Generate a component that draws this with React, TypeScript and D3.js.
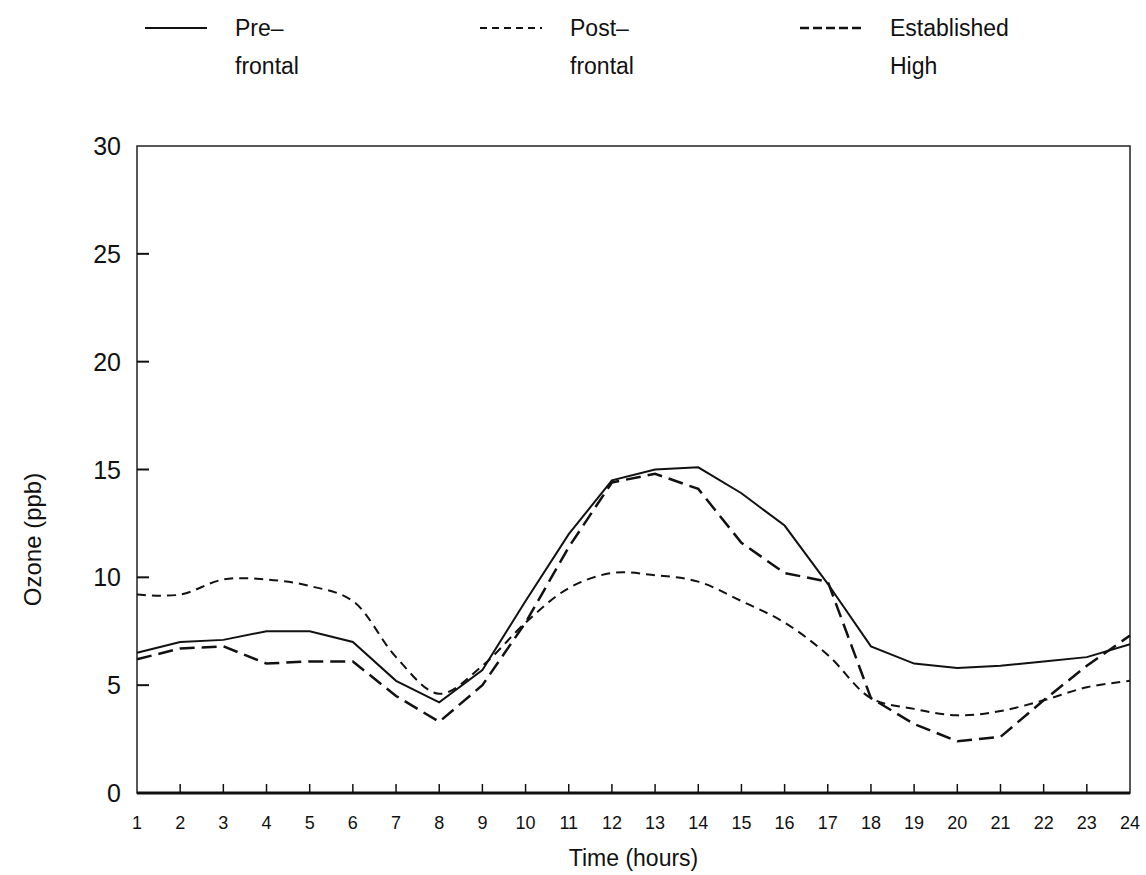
import { useRef, useEffect } from 'react'
import * as d3 from 'd3'

const hours = d3.range(1, 25)
const yTicks = [0, 5, 10, 15, 20, 25, 30]

const preFrontal = [6.5, 7.0, 7.1, 7.5, 7.5, 7.0, 5.2, 4.2, 5.7, 8.9, 12.0, 14.5, 15.0, 15.1, 13.9, 12.4, 9.7, 6.8, 6.0, 5.8, 5.9, 6.1, 6.3, 6.9]
const postFrontal = [9.2, 9.2, 9.9, 9.9, 9.6, 8.9, 6.3, 4.6, 5.9, 7.9, 9.5, 10.2, 10.1, 9.8, 8.9, 7.9, 6.4, 4.4, 3.9, 3.6, 3.8, 4.3, 4.9, 5.2]
const establishedHigh = [6.2, 6.7, 6.8, 6.0, 6.1, 6.1, 4.5, 3.3, 5.0, 7.9, 11.4, 14.4, 14.8, 14.1, 11.6, 10.2, 9.8, 4.4, 3.2, 2.4, 2.6, 4.3, 5.9, 7.3]

const series = [
  { name: ['Pre–', 'frontal'], values: preFrontal, dash: null, width: 2, curve: d3.curveLinear },
  { name: ['Post–', 'frontal'], values: postFrontal, dash: '9,6', width: 2, curve: d3.curveCatmullRom },
  { name: ['Established', 'High'], values: establishedHigh, dash: '15,7', width: 2.5, curve: d3.curveLinear },
]

const W = 1146
const H = 875
const margin = { left: 137, right: 16, top: 146, bottom: 82 }
const font = '"Liberation Sans", Arial, sans-serif'

export default function App() {
  const svgRef = useRef<SVGSVGElement>(null)

  useEffect(() => {
    const svg = d3.select(svgRef.current)
    svg.selectAll('*').remove()

    const x = d3.scaleLinear().domain([1, 24]).range([margin.left, W - margin.right])
    const y = d3.scaleLinear().domain([0, 30]).range([H - margin.bottom, margin.top])

    // frame
    svg.append('rect')
      .attr('x', x(1)).attr('y', y(30))
      .attr('width', x(24) - x(1)).attr('height', y(0) - y(30))
      .attr('fill', 'none').attr('stroke', '#222').attr('stroke-width', 1.5)
    svg.append('line')
      .attr('x1', x(1)).attr('x2', x(24)).attr('y1', y(0)).attr('y2', y(0))
      .attr('stroke', '#111').attr('stroke-width', 3)

    // y ticks + labels
    const yg = svg.append('g')
    yg.selectAll('line').data(yTicks.slice(1, -1)).join('line')
      .attr('x1', x(1)).attr('x2', x(1) + 12)
      .attr('y1', d => y(d)).attr('y2', d => y(d))
      .attr('stroke', '#111').attr('stroke-width', 2)
    yg.selectAll('text').data(yTicks).join('text')
      .attr('x', x(1) - 16).attr('y', d => y(d))
      .attr('dy', '0.36em').attr('text-anchor', 'end')
      .attr('font-family', font).attr('font-size', 25).attr('fill', '#111')
      .text(d => d)

    // x ticks + labels
    const xg = svg.append('g')
    xg.selectAll('line').data(hours.slice(1, -1)).join('line')
      .attr('x1', d => x(d)).attr('x2', d => x(d))
      .attr('y1', y(0)).attr('y2', y(0) - 9)
      .attr('stroke', '#111').attr('stroke-width', 1.5)
    xg.selectAll('text').data(hours).join('text')
      .attr('x', d => x(d)).attr('y', y(0) + 36)
      .attr('text-anchor', 'middle')
      .attr('font-family', font).attr('font-size', 18).attr('fill', '#111')
      .text(d => d)

    svg.append('text')
      .attr('x', (x(1) + x(24)) / 2).attr('y', 866)
      .attr('text-anchor', 'middle')
      .attr('font-family', font).attr('font-size', 23).attr('fill', '#111')
      .text('Time  (hours)')

    svg.append('text')
      .attr('transform', `translate(41,${(y(0) + y(30)) / 2 + 70}) rotate(-90)`)
      .attr('text-anchor', 'middle')
      .attr('font-family', font).attr('font-size', 24).attr('fill', '#111')
      .text('Ozone  (ppb)')

    // lines
    series.forEach(s => {
      const ln = d3.line<number>()
        .x((v, i) => x(hours[i]))
        .y(v => y(v))
        .curve(s.curve)
      svg.append('path')
        .datum(s.values)
        .attr('d', ln)
        .attr('fill', 'none')
        .attr('stroke', '#111')
        .attr('stroke-width', s.width)
        .attr('stroke-dasharray', s.dash)
    })

    // legend
    const legX = [145, 480, 800]
    const legDash = [null, '7,5', '9,4']
    series.forEach((s, i) => {
      const g = svg.append('g').attr('transform', `translate(${legX[i]},0)`)
      g.append('line')
        .attr('x1', 0).attr('x2', 62).attr('y1', 28).attr('y2', 28)
        .attr('stroke', '#111').attr('stroke-width', s.width)
        .attr('stroke-dasharray', legDash[i])
      g.selectAll('text').data(s.name).join('text')
        .attr('x', 90).attr('y', (d, j) => 36 + j * 38)
        .attr('font-family', font).attr('font-size', 23).attr('fill', '#111')
        .text(d => d)
    })
  }, [])

  return (
    <div style={{ position: 'absolute', left: 0, top: 0 }}>
      <svg ref={svgRef} width={W} height={H} style={{ display: 'block', background: '#fff' }} />
    </div>
  )
}
